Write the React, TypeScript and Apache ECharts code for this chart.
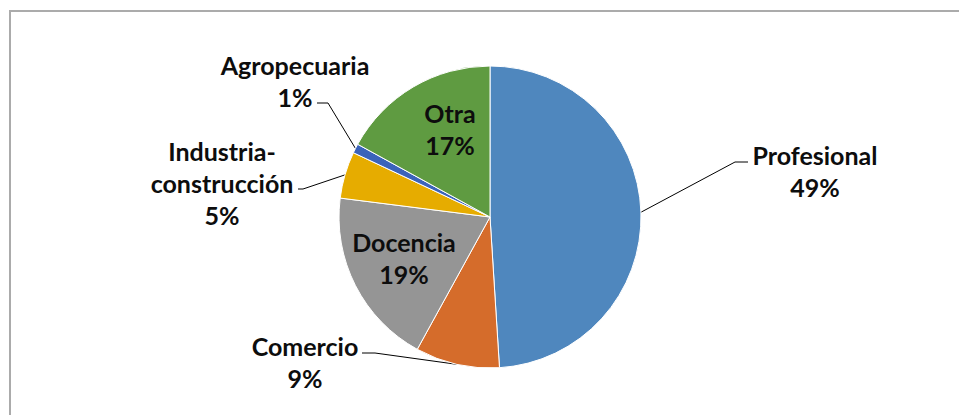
import React, { useEffect, useRef } from 'react';
import * as echarts from 'echarts';

const categories = ['Profesional', 'Comercio', 'Docencia', 'Industria-construcción', 'Agropecuaria', 'Otra'];
const values = [49, 9, 19, 5, 1, 17];
const colors = ['#4F87BE', '#D56C2B', '#959595', '#E6AC00', '#3B63BA', '#5F9B41'];

// label layout (label block centre, leader knee, leader end) — positions only
const labelCenters = [[815, 171], [305, 362], [404, 258], [222, 183], [295, 81], [450, 129]];
const leaderKnees = [[735, 162], [375, 353], null, [303, 189], [328, 103], null];
const leaderEnds = [[748, 162], [362, 353], null, [298, 189], [317, 103], null];

const CX = 490;
const CY = 217;
const R = 151;

export default function App() {
  const ref = useRef<HTMLDivElement>(null);
  useEffect(() => {
    if (!ref.current) return;
    const chart = echarts.init(ref.current, undefined, { renderer: 'svg' });
    const total = values.reduce((a, b) => a + b, 0);
    const midEdge = (i: number) => {
      let before = 0;
      for (let k = 0; k < i; k++) before += values[k];
      const a = ((before + values[i] / 2) / total) * Math.PI * 2;
      return [CX + R * Math.sin(a), CY - R * Math.cos(a)];
    };
    chart.setOption({
      animation: false,
      series: [
        {
          type: 'pie',
          center: [CX, CY],
          radius: R,
          startAngle: 90,
          clockwise: true,
          avoidLabelOverlap: false,
          itemStyle: { borderColor: '#ffffff', borderWidth: 1 },
          label: {
            show: true,
            position: 'outside',
            fontFamily: 'Lato',
            fontWeight: 'bold',
            fontSize: 25,
            lineHeight: 32,
            color: '#0d0d0d',
            formatter: (p: any) => `${String(p.name).replace('-', '-\n')}\n${Math.round(p.percent)}%`,
          },
          labelLine: { show: true, lineStyle: { color: '#000000', width: 1 } },
          labelLayout: (params: any) => {
            const i = params.dataIndex;
            const c = labelCenters[i];
            const res: any = { x: c[0], y: c[1], align: 'center', verticalAlign: 'middle' };
            if (leaderKnees[i] && leaderEnds[i]) {
              const start = params.labelLinePoints && params.labelLinePoints[0] ? params.labelLinePoints[0] : midEdge(i);
              res.labelLinePoints = [start, leaderKnees[i], leaderEnds[i]];
            }
            return res;
          },
          data: categories.map((name, i) => ({
            name,
            value: values[i],
            itemStyle: { color: colors[i] },
            labelLine: { show: leaderKnees[i] != null },
          })),
        },
      ],
    });
    return () => chart.dispose();
  }, []);

  return (
    <div style={{ position: 'fixed', left: 0, top: 0, width: 959, height: 415, overflow: 'hidden', background: '#fff' }}>
      <div
        style={{
          position: 'absolute',
          left: 9,
          top: 10,
          width: 1100,
          height: 600,
          border: '2px solid #ABABAB',
          boxSizing: 'border-box',
        }}
      />
      <div ref={ref} style={{ position: 'absolute', left: 0, top: 0, width: 959, height: 415 }} />
    </div>
  );
}
